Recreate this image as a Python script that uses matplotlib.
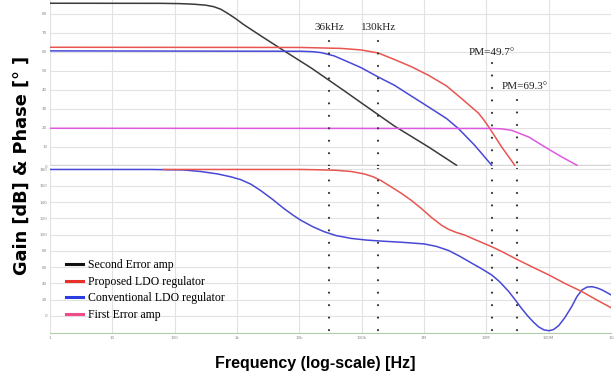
import numpy as np
import matplotlib.pyplot as plt
from matplotlib.lines import Line2D

# gain curves (Hz, dB)
second_f = [1, 59, 120, 201, 313, 422, 546, 708, 953, 1.28e3, 2.41e3, 5.65e3, 15.4e3, 52.3e3, 98e3,
            334e3, 1.18e6, 3.32e6]
second_db = [85.4, 85.35, 85.2, 84.9, 84.4, 83.6, 82.3, 80.1, 77.3, 74.2, 68.3, 60.5, 51.5, 39.5, 33.2,
             21.0, 10.0, 0.4]

prop_f = [1, 10.6e3, 46.8e3, 98e3, 184e3, 334e3, 627e3, 1.18e6, 2.30e6, 4.0e6, 7.5e6, 9.2e6,
          11.3e6, 17.6e6, 28.6e6]
prop_db = [62.3, 62.2, 61.7, 60.9, 59.3, 55.9, 52.1, 47.6, 42.0, 35.4, 27.7, 24.0,
           19.8, 10.0, 0.4]

conv_f = [1, 10.6e3, 16e3, 22.3e3, 36e3, 60.6e3, 98e3, 184e3, 334e3, 627e3, 1.18e6, 2.30e6,
          3.58e6, 6.49e6, 12.2e6]
conv_db = [60.4, 60.2, 60.0, 59.5, 57.8, 54.6, 51.6, 46.7, 42.4, 36.7, 31.0, 24.9,
           19.6, 10.9, 0.4]

first_f = [1, 12.2e6, 17.6e6, 25.6e6, 48e6, 86.9e6, 163e6, 285e6]
first_db = [19.8, 19.7, 19.5, 18.7, 15.2, 10.0, 4.7, 0.4]

# phase curves (Hz, deg)
conv_ph_f = [1, 40.8, 139, 260, 489, 792, 1148, 1662, 2408, 3758, 5653, 7889, 10.6e3, 16.6e3,
             24.9e3, 38.8e3, 67.8e3, 118e3, 206e3, 433e3, 1.01e6, 1.58e6, 2.47e6, 3.72e6,
             5.80e6, 8.40e6, 12.2e6, 16.4e6, 22.9e6, 29.6e6, 37.0e6, 46.2e6, 57.8e6, 69.5e6,
             83.7e6, 101e6, 121e6, 146e6, 182e6, 236e6, 285e6, 343e6, 412e6, 496e6, 597e6,
             719e6, 898e6, 1.12e9]
conv_ph = [180, 180, 179.4, 177.5, 174.5, 171, 167.5, 162, 154, 143, 132, 124, 117.5, 109.5,
           103.6, 98.8, 95.3, 93.3, 92, 90.6, 88.5, 85.5, 80.5, 73.5,
           65, 58, 50.4, 42, 30, 19, 9, 0, -8, -13.5,
           -17, -18.1, -16.5, -11.5, -2, 12, 24, 32, 35.5, 36, 34.5,
           32, 28, 23.7]

prop_ph_f = [66, 10.6e3, 19.9e3, 38.8e3, 67.8e3, 110e3, 153e3, 206e3, 299e3, 433e3, 627e3,
             908e3, 1.32e6, 1.91e6, 2.47e6, 3.32e6, 4.48e6, 6.98e6, 12.2e6, 17.6e6, 28.6e6,
             53.6e6, 101e6, 182e6, 343e6, 597e6, 1.04e9]
prop_ph = [180, 180, 179.6, 179, 177.5, 174.5, 171, 166.2, 158.5, 150.7, 142,
           132, 121, 111.5, 106.5, 102.5, 99.5, 93, 85.1, 79.3, 70.9,
           60.5, 50.4, 40, 29.9, 19.5, 9.5]

# dotted markers
mark_f = [30e3, 184e3, 12.2e6, 30.8e6]
mark_top = [65.5, 65.5, 54, 34.5]

xticks = [1, 10, 100, 1e3, 1e4, 1e5, 1e6, 1e7, 1e8, 1e9]
xlabels = ['1', '10', '100', '1k', '10k', '100k', '1M', '10M', '100M', '1G']

c_black, c_red, c_blue, c_mag = '#3a3a3a', '#e85550', '#4848d8', '#e058e0'

fig = plt.figure(figsize=(6.16, 3.77), dpi=100)
ax1 = fig.add_axes([50/616, 1-166/377, 561/616, 166/377])
ax2 = fig.add_axes([50/616, 1-333/377, 561/616, 165/377])

for ax in (ax1, ax2):
    ax.set_xscale('log')
    ax.set_xlim(1, 1e9)
    ax.set_xticks(xticks)
    ax.minorticks_off()
    ax.grid(True, color='#e2e2e2', lw=0.8)
    ax.set_axisbelow(True)
    for s in ax.spines.values():
        s.set_visible(False)
    ax.tick_params(length=0, labelsize=3, labelcolor='#888888', pad=2)

ax1.set_ylim(0, 87.1)
ax1.set_yticks(range(0, 81, 10))
ax1.set_xticklabels([])
ax1.axhline(0, color='#d6d6d6', lw=2.5, zorder=1)

ax2.set_ylim(-20.9, 181.8)
ax2.set_yticks(range(0, 181, 20))
ax2.set_xticklabels(xlabels)
ax2.spines['bottom'].set_visible(True)
ax2.spines['bottom'].set_color('#b0ccaa')
ax2.spines['bottom'].set_linestyle((0, (2, 1)))

ax1.plot(second_f, second_db, color=c_black, lw=1.1)
ax1.plot(prop_f, prop_db, color=c_red, lw=1.1)
ax1.plot(conv_f, conv_db, color=c_blue, lw=1.1)
ax1.plot(first_f, first_db, color=c_mag, lw=1.1)

ax2.plot(conv_ph_f, conv_ph, color=c_blue, lw=1.1)
ax2.plot(prop_ph_f, prop_ph, color=c_red, lw=1.1)

dot = dict(color='#333333', lw=1.6, linestyle=(0, (0.01, 5.6)), dash_capstyle='round', zorder=5)
for f, top in zip(mark_f, mark_top):
    ax1.plot([f, f], [top, 0], **dot)
    ax2.plot([f, f], [181.8, -20.9], **dot)

tfont = dict(family='Liberation Serif', fontsize=8, color='#222222', ha='center', va='center')
ax1.text(30e3, 72.8, '36kHz', **tfont)
ax1.text(184e3, 72.8, '130kHz', **tfont)
ax1.text(12.2e6, 59.7, 'PM=49.7°', **tfont)
ax1.text(41.4e6, 41.8, 'PM=69.3°', **tfont)

handles = [Line2D([], [], color='#111111', lw=2.2),
           Line2D([], [], color='#e8302a', lw=2.2),
           Line2D([], [], color='#2a3ee0', lw=2.2),
           Line2D([], [], color='#f04a8a', lw=2.2)]
labels = ['Second Error amp', 'Proposed LDO regulator', 'Conventional LDO regulator', 'First Error amp']
ax2.legend(handles, labels, loc='upper left', bbox_to_anchor=(66/616, 1-259/377),
           bbox_transform=fig.transFigure, frameon=False, borderpad=0, borderaxespad=0,
           handlelength=1.4, handletextpad=0.5, labelspacing=0.4,
           prop=dict(family='Liberation Serif', size=8.5))

fig.text(22/616, 1-165/377, 'Gain [dB] & Phase [° ]', rotation=90, ha='center', va='center',
         fontsize=12.8, fontweight='bold', family='DejaVu Sans')
fig.text(315/616, 1-368/377, 'Frequency (log-scale) [Hz]', ha='center', va='baseline',
         fontsize=11.5, fontweight='bold', family='Liberation Sans')

fig.savefig('out.png', dpi=100)
